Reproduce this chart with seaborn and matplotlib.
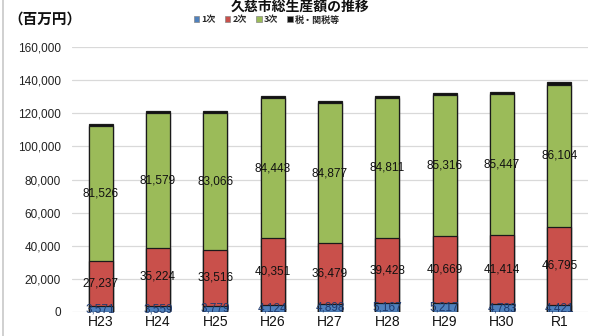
import matplotlib
matplotlib.use("Agg")
import matplotlib.pyplot as plt
from matplotlib.patches import Patch
import numpy as np
import pandas as pd
import seaborn as sns

years = ["H23", "H24", "H25", "H26", "H27", "H28", "H29", "H30", "R1"]
primary = [3571, 3559, 3779, 4124, 4898, 5167, 5217, 4783, 4421]
secondary = [27237, 35224, 33516, 40351, 36479, 39428, 40669, 41414, 46795]
tertiary = [81526, 81579, 83066, 84443, 84877, 84811, 85316, 85447, 86104]
taxes = [900, 1000, 1000, 1300, 1200, 1100, 1200, 1200, 1300]

series_names = ["1次", "2次", "3次", "税・関税等"]
colors = ["#4f81bd", "#c9504b", "#9bbb59", "#111111"]

sns.set_style("white")
plt.rcParams["font.family"] = ["Liberation Sans", "Noto Sans CJK JP", "DejaVu Sans"]

df = pd.DataFrame({"year": years, "p": primary, "s": secondary,
                   "t": tertiary, "x": taxes})
df["c1"] = df["p"]
df["c2"] = df["c1"] + df["s"]
df["c3"] = df["c2"] + df["t"]
df["c4"] = df["c3"] + df["x"]

fig = plt.figure(figsize=(5.94, 3.36), dpi=100)
ax = fig.add_axes([72 / 594, 24 / 336, 516 / 594, 265 / 336])

# cumulative layers drawn from the top down so each stack reads correctly
for col, color in zip(["c4", "c3", "c2", "c1"], colors[::-1]):
    sns.barplot(data=df, x="year", y=col, order=years, color=color,
                width=0.42, edgecolor="#1a1a1a", linewidth=0.9,
                saturation=1, ax=ax, zorder=3)

ax.set_ylim(0, 160000)
ax.set_xlim(-0.5, len(years) - 0.5)
ax.set_yticks(np.arange(0, 160001, 20000))
ax.set_yticklabels([f"{v:,}" for v in range(0, 160001, 20000)],
                   fontsize=8.5, color="#222222")
ax.set_xticks(range(len(years)))
ax.set_xticklabels(years, fontsize=10, color="#111111")
ax.tick_params(axis="both", length=0, pad=8)
ax.tick_params(axis="x", pad=2)
ax.set_xlabel("")
ax.set_ylabel("")
ax.yaxis.grid(True, color="#d9d9d9", linewidth=0.9, zorder=0)
ax.set_axisbelow(True)
for sp in ax.spines.values():
    sp.set_visible(False)

# value labels centred in each segment
for i in range(len(years)):
    ax.text(i, df["c1"][i] / 2, f"{primary[i]:,}", ha="center", va="center",
            fontsize=8.5, color="#1f3a6e", zorder=5)
    ax.text(i, df["c1"][i] + secondary[i] / 2, f"{secondary[i]:,}",
            ha="center", va="center", fontsize=8.5, color="#111111", zorder=5)
    ax.text(i, df["c2"][i] + tertiary[i] / 2, f"{tertiary[i]:,}",
            ha="center", va="center", fontsize=8.5, color="#111111", zorder=5)

# frame line on the left edge
fig.add_artist(plt.Line2D([3 / 594, 3 / 594], [0, 1], color="#c8c8c8",
                          linewidth=1.2))

fig.text(300 / 594, 1 - 7 / 336, "久慈市総生産額の推移", ha="center",
         va="center", fontsize=10, fontweight="bold",
         family=["Noto Sans CJK JP"], color="#111111")
fig.text(8 / 594, 1 - 19 / 336, "（百万円）", ha="left", va="center",
         fontsize=10.5, fontweight="bold", family=["Noto Sans CJK JP"],
         color="#111111")

handles = [Patch(facecolor=c, edgecolor="#888888", linewidth=0.5)
           for c in colors]
fig.legend(handles, series_names, loc="center", ncol=4,
           bbox_to_anchor=(267 / 594, 1 - 20 / 336), frameon=False,
           prop={"family": ["Noto Sans CJK JP"], "size": 6.5, "weight": "bold"},
           handlelength=0.6, handleheight=0.6, handletextpad=0.25,
           columnspacing=1.0)

fig.savefig("out.png", dpi=100)
